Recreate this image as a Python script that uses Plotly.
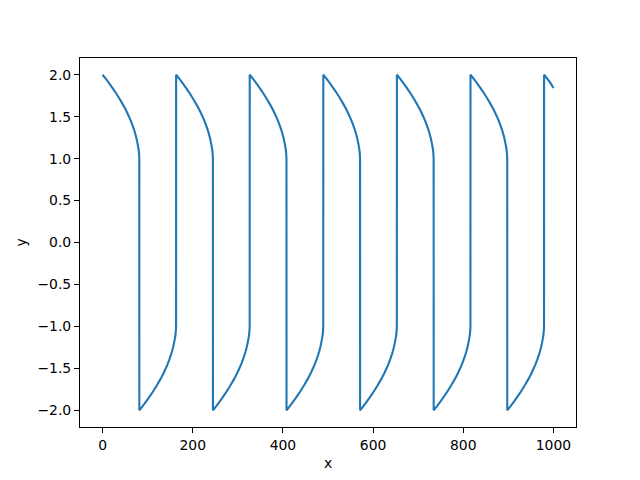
import plotly.graph_objects as go

# Time values, one row per half-cycle
t_values = [
    0.0, 7.4, 14.4, 21.1, 27.5, 33.5, 39.3, 44.6, 49.7, 54.4, 58.7, 62.7, 66.3, 69.6, 72.4, 74.9, 76.9, 78.7, 80.2, 81.0, 81.3, 81.5,
    81.6, 89.0, 96.0, 102.7, 109.1, 115.1, 120.9, 126.2, 131.3, 136.0, 140.3, 144.3, 147.9, 151.2, 154.0, 156.5, 158.5, 160.3, 161.8, 162.6, 162.9, 163.1,
    163.2, 170.6, 177.6, 184.3, 190.7, 196.7, 202.5, 207.8, 212.9, 217.6, 221.9, 225.9, 229.5, 232.8, 235.6, 238.1, 240.1, 241.9, 243.4, 244.2, 244.5, 244.7,
    244.8, 252.2, 259.2, 265.9, 272.3, 278.3, 284.1, 289.4, 294.5, 299.2, 303.5, 307.5, 311.1, 314.4, 317.2, 319.7, 321.7, 323.5, 325.0, 325.8, 326.1, 326.3,
    326.4, 333.8, 340.8, 347.5, 353.9, 359.9, 365.7, 371.0, 376.1, 380.8, 385.1, 389.1, 392.7, 396.0, 398.8, 401.3, 403.3, 405.1, 406.6, 407.4, 407.7, 407.9,
    408.0, 415.4, 422.4, 429.1, 435.5, 441.5, 447.3, 452.6, 457.7, 462.4, 466.7, 470.7, 474.3, 477.6, 480.4, 482.9, 484.9, 486.7, 488.2, 489.0, 489.3, 489.5,
    489.6, 497.0, 504.0, 510.7, 517.1, 523.1, 528.9, 534.2, 539.3, 544.0, 548.3, 552.3, 555.9, 559.2, 562.0, 564.5, 566.5, 568.3, 569.8, 570.6, 570.9, 571.1,
    571.2, 578.6, 585.6, 592.3, 598.7, 604.7, 610.5, 615.8, 620.9, 625.6, 629.9, 633.9, 637.5, 640.8, 643.6, 646.1, 648.1, 649.9, 651.4, 652.2, 652.5, 652.7,
    652.8, 660.2, 667.2, 673.9, 680.3, 686.3, 692.1, 697.4, 702.5, 707.2, 711.5, 715.5, 719.1, 722.4, 725.2, 727.7, 729.7, 731.5, 733.0, 733.8, 734.1, 734.3,
    734.4, 741.8, 748.8, 755.5, 761.9, 767.9, 773.7, 779.0, 784.1, 788.8, 793.1, 797.1, 800.7, 804.0, 806.8, 809.3, 811.3, 813.1, 814.6, 815.4, 815.7, 815.9,
    816.0, 823.4, 830.4, 837.1, 843.5, 849.5, 855.3, 860.6, 865.7, 870.4, 874.7, 878.7, 882.3, 885.6, 888.4, 890.9, 892.9, 894.7, 896.2, 897.0, 897.3, 897.5,
    897.6, 905.0, 912.0, 918.7, 925.1, 931.1, 936.9, 942.2, 947.3, 952.0, 956.3, 960.3, 963.9, 967.2, 970.0, 972.5, 974.5, 976.3, 977.8, 978.6, 978.9, 979.1,
    979.2, 986.6, 993.6, 1000.0,
]

y_pos = [2.0, 1.95, 1.9, 1.85, 1.8, 1.75, 1.7, 1.65, 1.6, 1.55, 1.5, 1.45, 1.4, 1.35, 1.3, 1.25, 1.2, 1.15, 1.1, 1.05, 1.02, 1.0]
y_neg = [-2.0, -1.95, -1.9, -1.85, -1.8, -1.75, -1.7, -1.65, -1.6, -1.55, -1.5, -1.45, -1.4, -1.35, -1.3, -1.25, -1.2, -1.15, -1.1, -1.05, -1.02, -1.0]
y_tail = [2.0, 1.95, 1.9, 1.843]

y_values = (y_pos + y_neg) * 6 + y_tail

x_ticks = [0, 200, 400, 600, 800, 1000]
y_ticks = [-2.0, -1.5, -1.0, -0.5, 0.0, 0.5, 1.0, 1.5, 2.0]

fig = go.Figure()
fig.add_trace(go.Scatter(
    x=t_values, y=y_values, mode="lines",
    line=dict(color="#1f77b4", width=2.1, simplify=False),
    showlegend=False,
))

axis_common = dict(
    showline=True, linecolor="black", linewidth=1.1, mirror=True,
    ticks="outside", ticklen=5, tickwidth=1.1, tickcolor="black",
    showgrid=False, zeroline=False,
    tickfont=dict(family="DejaVu Sans", size=13.9, color="black"),
)

fig.update_layout(
    width=640, height=480,
    margin=dict(l=72, r=72, t=50, b=61, pad=0),
    paper_bgcolor="white", plot_bgcolor="white",
    font=dict(family="DejaVu Sans", size=13.9, color="black"),
    xaxis=dict(range=[-50, 1050], tickvals=x_ticks, ticktext=[str(v) for v in x_ticks],
               title=dict(text="x", font=dict(size=13.9), standoff=6), **axis_common),
    yaxis=dict(range=[-2.2, 2.2], tickvals=y_ticks,
               ticktext=[f"{v:.1f}".replace("-", "\u2212") for v in y_ticks],
               title=dict(text="y", font=dict(size=13.9), standoff=7), **axis_common),
)

fig.write_html("out.html")
